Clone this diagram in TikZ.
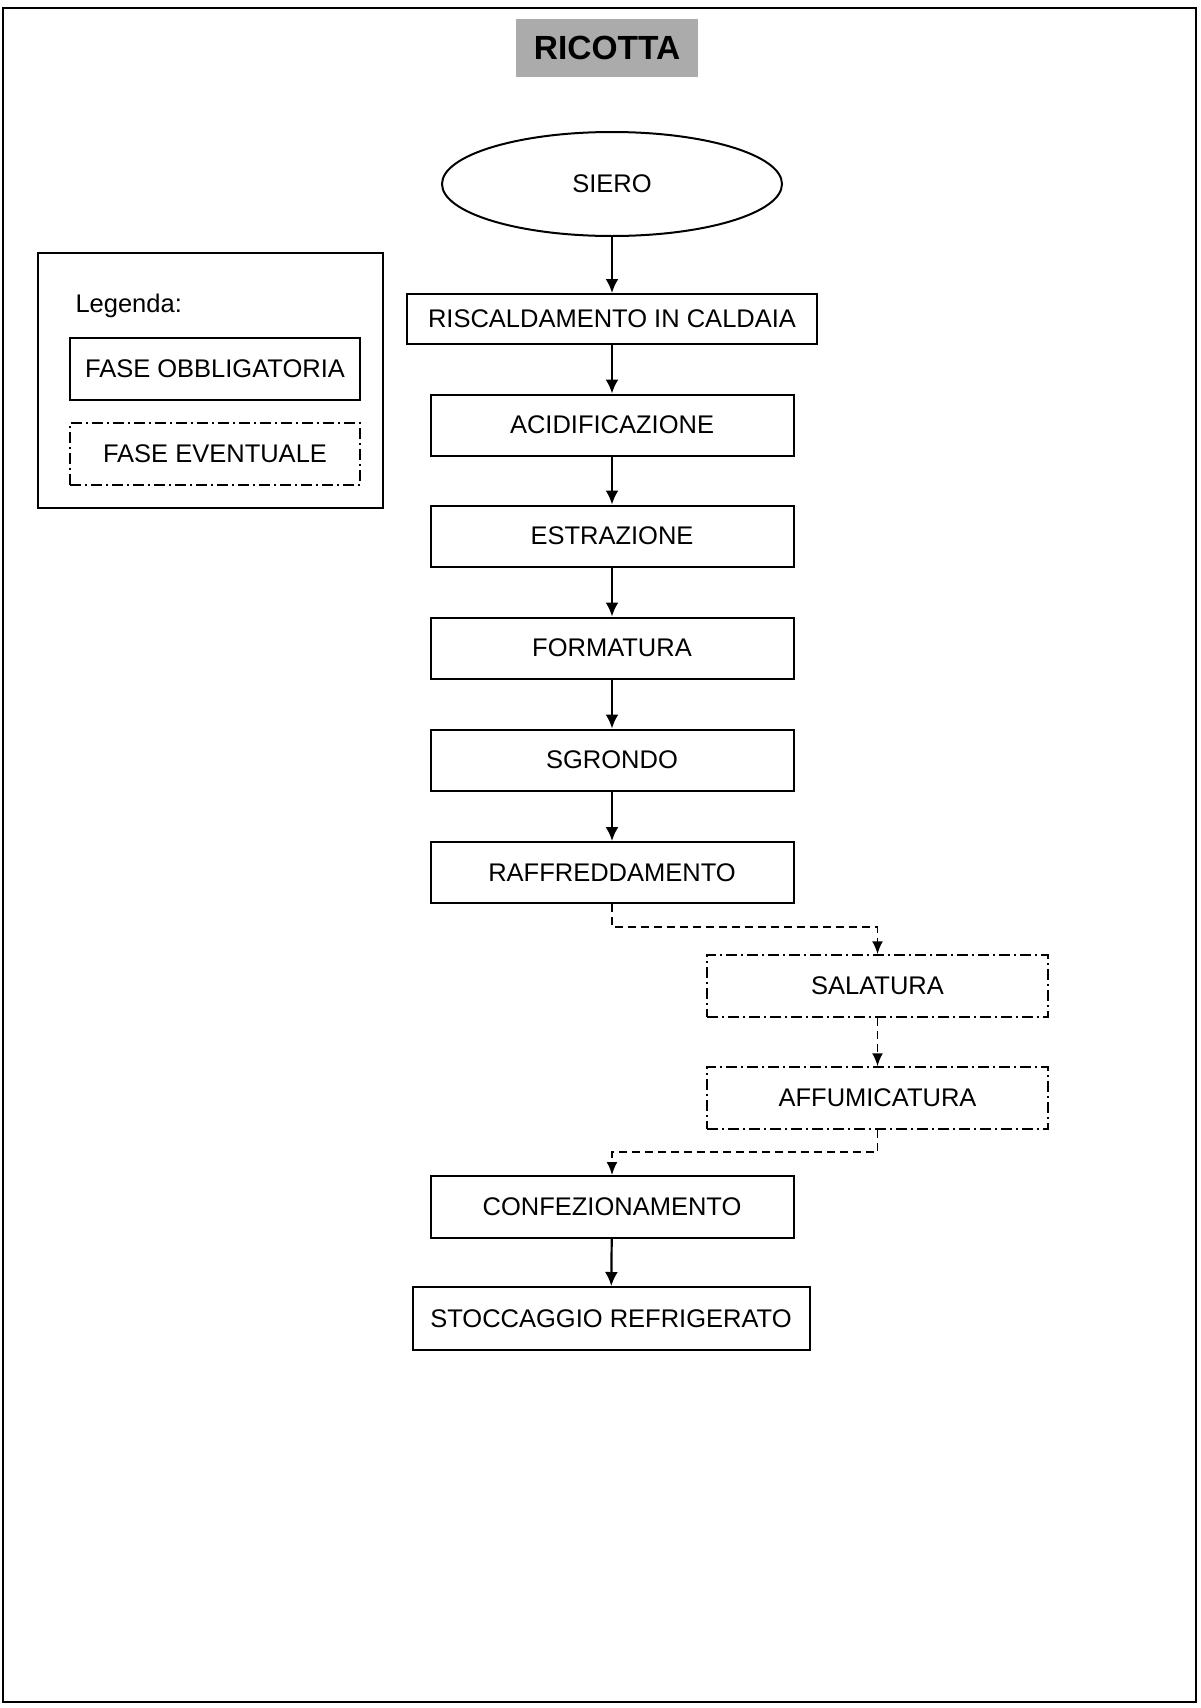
\documentclass[tikz,border=0pt]{standalone}
\usepackage{fontspec}
\setmainfont{Liberation Sans}
\usetikzlibrary{arrows.meta,shapes.geometric}
\tikzset{
  txt/.style={font=\fontsize{25.5}{30}\selectfont},
  phase/.style={draw, line width=2pt, txt, inner sep=0pt},
  optphase/.style={draw, line width=1.5pt, txt, inner sep=0pt, dash pattern=on 11pt off 4pt on 2pt off 4pt},
  flow/.style={line width=2.2pt, -{Latex[length=14pt,width=13pt]}},
  optflow/.style={line width=1.9pt, dash pattern=on 8pt off 5pt, -{Latex[length=13pt,width=11pt]}},
}
\begin{document}
\begin{tikzpicture}[x=1pt,y=-1pt]
\useasboundingbox (0,0) rectangle (1200,1708);
% page frame
\draw[line width=2.2pt] (3,8) rectangle (1196,1702);
% title
\node[fill=black!33, minimum width=182pt, minimum height=58pt, inner sep=0pt,
      font=\fontsize{33.5}{40}\bfseries\selectfont] (title) at (607,47.5) {RICOTTA};
% legend
\draw[line width=1.8pt] (38,253) rectangle (383,508);
\node[txt, anchor=west] (leg) at (72,306) {Legenda:};
\node[phase, minimum width=290pt, minimum height=62pt] (lobb) at (215,369) {FASE OBBLIGATORIA};
\node[optphase, minimum width=290pt, minimum height=62pt] (levt) at (215,454) {FASE EVENTUALE};
% flow
\node[draw, ellipse, line width=2pt, minimum width=340pt, minimum height=104pt, txt] (siero) at (612,184) {SIERO};
\node[phase, minimum width=410pt, minimum height=50pt] (risc) at (612,319) {RISCALDAMENTO IN CALDAIA};
\node[phase, minimum width=363pt, minimum height=61pt] (acid) at (612,425) {ACIDIFICAZIONE};
\node[phase, minimum width=363pt, minimum height=61pt] (estr) at (612,536) {ESTRAZIONE};
\node[phase, minimum width=363pt, minimum height=61pt] (form) at (612,648) {FORMATURA};
\node[phase, minimum width=363pt, minimum height=61pt] (sgro) at (612,760) {SGRONDO};
\node[phase, minimum width=363pt, minimum height=61pt] (raff) at (612,872.5) {RAFFREDDAMENTO};
\node[optphase, minimum width=341pt, minimum height=62pt] (sala) at (877.5,986) {SALATURA};
\node[optphase, minimum width=341pt, minimum height=62pt] (affu) at (877.5,1098) {AFFUMICATURA};
\node[phase, minimum width=363pt, minimum height=62pt] (conf) at (612,1207) {CONFEZIONAMENTO};
\node[phase, minimum width=397pt, minimum height=63pt] (stoc) at (611,1318.5) {STOCCAGGIO REFRIGERATO};
% connectors
\draw[flow] (siero) -- (risc);
\draw[flow] (risc) -- (acid);
\draw[flow] (acid) -- (estr);
\draw[flow] (estr) -- (form);
\draw[flow] (form) -- (sgro);
\draw[flow] (sgro) -- (raff);
\coordinate (d1) at (612,927);
\coordinate (d2) at (877.5,927);
\draw[optflow] (raff.south) -- (d1) -- (d2) -- (sala.north);
\draw[optflow] (sala) -- (affu);
\coordinate (d3) at (877.5,1152);
\coordinate (d4) at (612,1152);
\draw[optflow] (affu.south) -- (d3) -- (d4) -- (conf.north);
\draw[flow] (conf) -- (stoc);
\end{tikzpicture}
\end{document}
